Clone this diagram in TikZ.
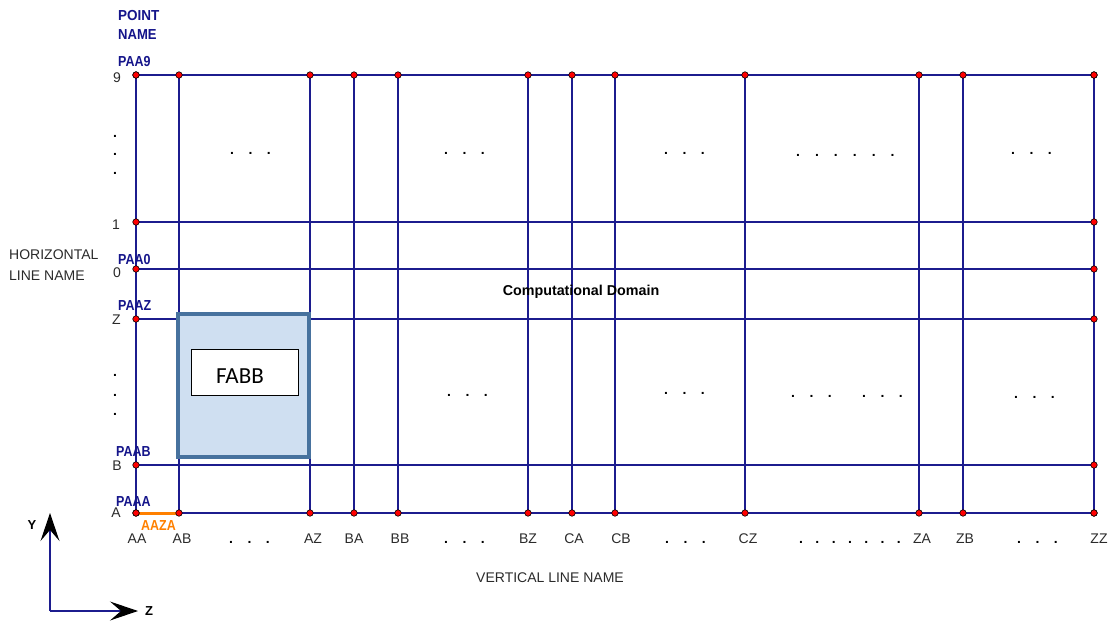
\documentclass[tikz,border=0pt]{standalone}
\usepackage{graphicx}
\usepackage{fontspec}
\setmainfont{Liberation Sans}
\newfontfamily\carlitofont{Carlito}
\usetikzlibrary{arrows.meta}
\definecolor{gridblue}{HTML}{1C1C8E}
\definecolor{ptred}{HTML}{FF0000}
\definecolor{boxfill}{HTML}{CFDFF1}
\definecolor{boxedge}{HTML}{47729E}
\definecolor{lblgray}{HTML}{2A2A2A}
\definecolor{pnavy}{HTML}{14148A}
\definecolor{orangeln}{HTML}{FF8000}
\newcommand\dsep[1]{\hspace{#1pt}}
\begin{document}
\begin{tikzpicture}[x=1pt,y=-1pt,
  gridline/.style={draw=gridblue, line width=1.2pt},
  ptdot/.style={circle, fill=ptred, draw=black, line width=0.6pt, minimum size=6.5pt, inner sep=0pt},
  lbl/.style={font=\fontsize{14}{16}\selectfont, text=lblgray, inner sep=0pt},
  pname/.style={font=\fontsize{14.5}{16}\selectfont\bfseries, text=pnavy, inner sep=0pt, anchor=west},
  ell/.style={font=\fontsize{14}{16}\selectfont\bfseries, inner sep=0pt, anchor=base west},
  axisline/.style={draw=gridblue, line width=1.1pt},
  axtip/.style={-{Stealth[black, length=28pt, width=19pt, inset=11pt]}},
  axlbl/.style={font=\fontsize{13}{15}\selectfont\bfseries, text=black, inner sep=0pt}
]
\useasboundingbox (0,0) rectangle (1114,624);

% grid coordinates
\foreach \n/\x in {AA/136,AB/179,AZ/310,BA/354,BB/398,BZ/528,CA/572,CB/615,CZ/745,ZA/919,ZB/963,ZZ/1094}{
  \coordinate (t-\n) at (\x,75);
  \coordinate (b-\n) at (\x,513);
}
\foreach \n/\y in {9/75,1/222,0/269,Z/319,B/465,A/513}{
  \coordinate (l-\n) at (136,\y);
  \coordinate (r-\n) at (1094,\y);
}

% grid lines
\foreach \n in {AA,AB,AZ,BA,BB,BZ,CA,CB,CZ,ZA,ZB,ZZ}{
  \draw[gridline] (t-\n) -- (b-\n);
}
\foreach \n in {9,1,0,Z,B,A}{
  \draw[gridline] (l-\n) -- (r-\n);
}

% FABB box
\node[draw=boxedge, line width=3.2pt, fill=boxfill, minimum width=131pt, minimum height=143pt, inner sep=0pt] (fbox) at (243.5,385.5) {};
\node[draw=black, line width=0.8pt, fill=white, minimum width=107pt, minimum height=46pt, inner sep=0pt] (fabbin) at (245,372) {};
\node[font=\carlitofont\fontsize{23}{26}\selectfont, text=black, inner sep=0pt] (fabb) at (240,376) {FABB};

% orange segment
\draw[draw=orangeln, line width=3pt] (b-AA) -- (b-AB);

% points
\foreach \n in {AA,AB,AZ,BA,BB,BZ,CA,CB,CZ,ZA,ZB,ZZ}{
  \node[ptdot] (pt-\n) at (t-\n) {};
  \node[ptdot] (pb-\n) at (b-\n) {};
}
\foreach \n in {9,1,0,Z,B,A}{
  \node[ptdot] (pl-\n) at (l-\n) {};
  \node[ptdot] (pr-\n) at (r-\n) {};
}

% horizontal line names
\node[lbl, anchor=east] (h9) at (121,78) {9};
\node[lbl, anchor=east] (h1) at (120,225) {1};
\node[lbl, anchor=east] (h0) at (121,273) {0};
\node[lbl, anchor=east] (hZ) at (121,320) {Z};
\node[lbl, anchor=east] (hB) at (122,466) {B};
\node[lbl, anchor=east] (hA) at (121,513) {A};

% point names
\node[pname] (pnt) at (118,16) {\scalebox{0.93}[1]{POINT}};
\node[pname] (pnm) at (118,35) {\scalebox{0.9}[1]{NAME}};
\node[pname] (p9) at (118,62) {\scalebox{0.86}[1]{PAA9}};
\node[pname] (p0) at (118,260) {\scalebox{0.86}[1]{PAA0}};
\node[pname] (pZ) at (118,305.5) {\scalebox{0.86}[1]{PAAZ}};
\node[pname] (pB) at (116,452) {\scalebox{0.86}[1]{PAAB}};
\node[pname] (pA) at (116,501.5) {\scalebox{0.86}[1]{PAAA}};
\node[pname, text=orangeln] (aaza) at (141,525.5) {\scalebox{0.86}[1]{AAZA}};

% axis titles
\node[lbl, anchor=west] (hor1) at (9,255) {HORIZONTAL};
\node[lbl, anchor=west] (hor2) at (9,275.5) {LINE NAME};
\node[lbl] (vert) at (550,578) {VERTICAL LINE NAME};
\node[font=\fontsize{14.3}{16}\selectfont\bfseries, text=black, inner sep=0pt] (cd) at (581,292) {Computational Domain};

% vertical line names
\node[lbl] (vAA) at (137,539) {AA};
\node[lbl] (vAB) at (182,539) {AB};
\node[lbl] (vAZ) at (313,539) {AZ};
\node[lbl] (vBA) at (354,539) {BA};
\node[lbl] (vBB) at (400,539) {BB};
\node[lbl] (vBZ) at (528,539) {BZ};
\node[lbl] (vCA) at (574,539) {CA};
\node[lbl] (vCB) at (621,539) {CB};
\node[lbl] (vCZ) at (748,539) {CZ};
\node[lbl] (vZA) at (922,539) {ZA};
\node[lbl] (vZB) at (965,539) {ZB};
\node[lbl] (vZZ) at (1099,539) {ZZ};

% ellipses, bottom row
\node[ell] (eb1) at (229,543) {.\dsep{14.5}.\dsep{14.5}.};
\node[ell] (eb2) at (444,543) {.\dsep{14.5}.\dsep{14.5}.};
\node[ell] (eb3) at (665,543) {.\dsep{14.5}.\dsep{14.5}.};
\node[ell] (eb4) at (799,543) {.\dsep{12.4}.\dsep{12.4}.\dsep{12.4}.\dsep{12.4}.\dsep{12.4}.\dsep{12.4}.};
\node[ell] (eb5) at (1017,543) {.\dsep{14.5}.\dsep{14.5}.};

% ellipses, upper row
\node[ell] (et1) at (230,154) {.\dsep{14.5}.\dsep{14.5}.};
\node[ell] (et2) at (444,154) {.\dsep{14.5}.\dsep{14.5}.};
\node[ell] (et3) at (664,154) {.\dsep{14.5}.\dsep{14.5}.};
\node[ell] (et4) at (796,156) {.\dsep{15}.\dsep{15}.\dsep{15}.\dsep{15}.\dsep{15}.};
\node[ell] (et5) at (1011,154) {.\dsep{14.5}.\dsep{14.5}.};

% ellipses, middle row
\node[ell] (em1) at (447,396) {.\dsep{14.5}.\dsep{14.5}.};
\node[ell] (em2) at (664,394) {.\dsep{14.5}.\dsep{14.5}.};
\node[ell] (em3) at (791,397) {.\dsep{14.5}.\dsep{14.5}.};
\node[ell] (em4) at (862,397) {.\dsep{14.5}.\dsep{14.5}.};
\node[ell] (em5) at (1014,398) {.\dsep{14.5}.\dsep{14.5}.};

% vertical ellipses on the left
\foreach \k/\y in {1/136,2/154,3/173,4/375,5/395,6/414}{
  \node[ell] (ev\k) at (113,\y+1.5) {.};
}

% coordinate axes
\coordinate (ax0) at (50,611);
\coordinate (axy) at (50,513);
\coordinate (axz) at (138,611);
\draw[axisline, axtip] (ax0) -- (axy);
\draw[axisline, axtip] (ax0) -- (axz);
\node[axlbl] (ylbl) at (32,525) {Y};
\node[axlbl] (zlbl) at (149,611) {Z};
\end{tikzpicture}
\end{document}
